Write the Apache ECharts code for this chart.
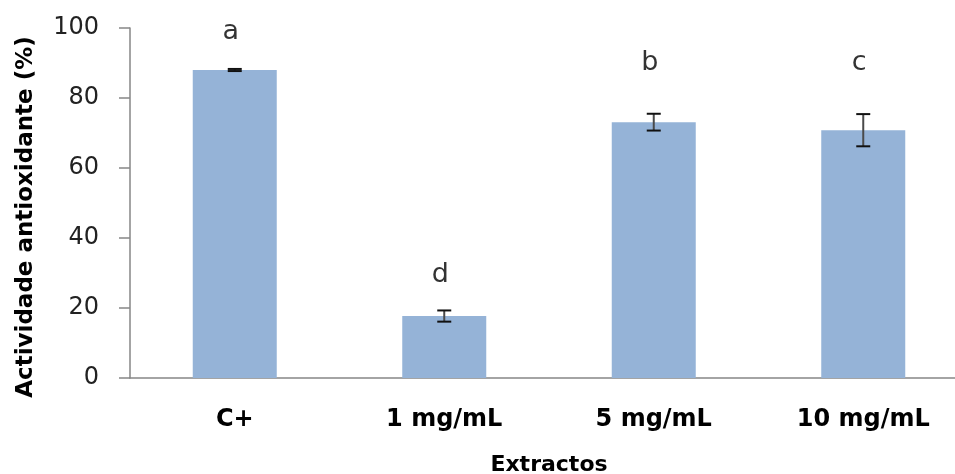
<!DOCTYPE html>
<html>
<head>
<meta charset="utf-8">
<script src="https://cdn.jsdelivr.net/npm/echarts@6/dist/echarts.min.js"></script>
<style>
html,body{margin:0;padding:0;background:#fff;overflow:hidden;}
#wrap{width:955px;height:474px;overflow:hidden;position:relative;}
#c{width:990px;height:474px;position:absolute;left:0;top:0;}
</style>
</head>
<body>
<div id="wrap"><div id="c"></div></div>
<script>
const categories = ['C+', '1 mg/mL', '5 mg/mL', '10 mg/mL'];
const values = [88.0, 17.7, 73.1, 70.8];
const errors = [0.3, 1.6, 2.4, 4.6];
const letters = ['a', 'd', 'b', 'c'];
const letterY = [99.0, 29.3, 89.9, 89.9];
const yTicks = [0, 20, 40, 60, 80, 100];

const chart = echarts.init(document.getElementById('c'));
const FONT = 'DejaVu Sans';

chart.setOption({
  animation: false,
  backgroundColor: '#ffffff',
  grid: { left: 130, top: 28, width: 838, height: 350, containLabel: false, outerBoundsMode: 'none' },
  xAxis: {
    type: 'category',
    data: categories,
    name: 'Extractos',
    nameLocation: 'middle',
    nameGap: 76,
    nameTextStyle: { fontFamily: FONT, fontWeight: 'bold', fontSize: 22, color: '#000' },
    axisLine: { show: true, lineStyle: { color: '#868686', width: 1.5 } },
    axisTick: { show: false },
    axisLabel: { fontFamily: FONT, fontWeight: 'bold', fontSize: 24, color: '#000', margin: 30 },
    splitLine: { show: false }
  },
  yAxis: {
    type: 'value',
    min: yTicks[0],
    max: yTicks[yTicks.length - 1],
    interval: 20,
    name: 'Actividade antioxidante (%)',
    nameLocation: 'middle',
    nameGap: 92,
    nameTextStyle: { fontFamily: FONT, fontWeight: 'bold', fontSize: 23, color: '#000', padding: [0, 28, 0, 0] },
    axisLine: { show: true, lineStyle: { color: '#868686', width: 1.5 } },
    axisTick: { show: true, length: 11, lineStyle: { color: '#868686', width: 1.5 } },
    axisLabel: { fontFamily: FONT, fontSize: 24, color: '#222', margin: 31 },
    splitLine: { show: false }
  },
  series: [
    {
      type: 'bar',
      data: values,
      barWidth: 84,
      itemStyle: { color: '#95B3D7' },
      z: 2
    },
    {
      type: 'custom',
      data: values.map((v, i) => [i, v - errors[i], v + errors[i]]),
      renderItem: function (params, api) {
        const i = api.value(0);
        const lo = api.coord([i, api.value(1)]);
        const hi = api.coord([i, api.value(2)]);
        const half = 7;
        return {
          type: 'group',
          children: [
            { type: 'line', shape: { x1: hi[0], y1: hi[1], x2: lo[0], y2: lo[1] }, style: { stroke: '#4a4a4a', lineWidth: 2 } },
            { type: 'line', shape: { x1: hi[0] - half, y1: hi[1], x2: hi[0] + half, y2: hi[1] }, style: { stroke: '#111', lineWidth: 2 } },
            { type: 'line', shape: { x1: lo[0] - half, y1: lo[1], x2: lo[0] + half, y2: lo[1] }, style: { stroke: '#111', lineWidth: 2 } }
          ]
        };
      },
      z: 5
    },
    {
      type: 'scatter',
      data: letterY.map((y, i) => [i, y]),
      symbolSize: 0,
      clip: false,
      label: {
        show: true,
        position: 'inside',
        formatter: p => letters[p.dataIndex],
        fontFamily: FONT,
        fontSize: 27,
        color: '#000',
        offset: [-4, 0]
      },
      z: 6
    }
  ]
});
</script>
</body>
</html>
